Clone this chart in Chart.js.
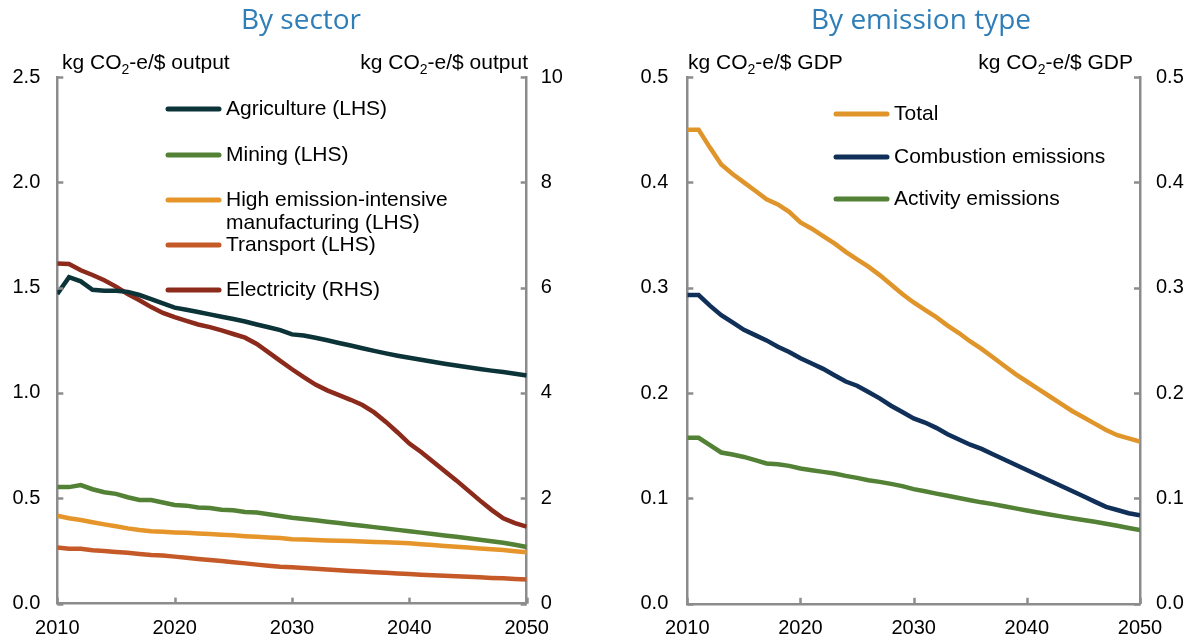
<!DOCTYPE html>
<html>
<head>
<meta charset="utf-8">
<script src="https://cdn.jsdelivr.net/npm/chart.js@4/dist/chart.umd.min.js"></script>
<style>
  html, body { margin: 0; padding: 0; background: #fff; }
  #wrap { position: relative; width: 1197px; height: 640px; overflow: hidden; }
  .panel { position: absolute; top: 0; height: 640px; }
  #leftPanel { left: 0; width: 598px; }
  #rightPanel { left: 598px; width: 599px; }
</style>
</head>
<body>
<div id="wrap">
  <div class="panel" id="leftPanel"><canvas id="sectorChart" width="598" height="640"></canvas></div>
  <div class="panel" id="rightPanel"><canvas id="typeChart" width="599" height="640"></canvas></div>
</div>
<script>
// Years on the x axis
const years = [2010, 2011, 2012, 2013, 2014, 2015, 2016, 2017, 2018, 2019,
  2020, 2021, 2022, 2023, 2024, 2025, 2026, 2027, 2028, 2029,
  2030, 2031, 2032, 2033, 2034, 2035, 2036, 2037, 2038, 2039,
  2040, 2041, 2042, 2043, 2044, 2045, 2046, 2047, 2048, 2049, 2050];

// By sector (kg CO2-e/$ output)
const agriculture = [1.47, 1.55, 1.53, 1.49, 1.485, 1.485, 1.48, 1.465, 1.445, 1.425, 1.405,
  1.395, 1.384, 1.373, 1.362, 1.351, 1.339, 1.325, 1.312, 1.298, 1.278,
  1.273, 1.262, 1.250, 1.237, 1.225, 1.212, 1.200, 1.188, 1.177, 1.167,
  1.158, 1.148, 1.139, 1.130, 1.122, 1.114, 1.106, 1.099, 1.091, 1.083];
const mining = [0.553, 0.553, 0.563, 0.543, 0.529, 0.521, 0.505, 0.492, 0.492, 0.480, 0.468,
  0.465, 0.456, 0.454, 0.446, 0.443, 0.435, 0.432, 0.424, 0.416, 0.408,
  0.402, 0.396, 0.389, 0.383, 0.376, 0.370, 0.363, 0.357, 0.350, 0.343,
  0.337, 0.330, 0.323, 0.317, 0.310, 0.303, 0.296, 0.289, 0.279, 0.269];
const highEmission = [0.417, 0.405, 0.397, 0.386, 0.376, 0.367, 0.357, 0.349, 0.344, 0.341, 0.338,
  0.336, 0.333, 0.330, 0.327, 0.324, 0.320, 0.317, 0.314, 0.311, 0.306,
  0.304, 0.302, 0.300, 0.298, 0.297, 0.295, 0.293, 0.291, 0.289, 0.286,
  0.282, 0.278, 0.274, 0.270, 0.266, 0.262, 0.258, 0.254, 0.249, 0.244];
const transport = [0.266, 0.260, 0.260, 0.253, 0.250, 0.245, 0.241, 0.236, 0.231, 0.228, 0.223,
  0.218, 0.212, 0.207, 0.202, 0.196, 0.191, 0.185, 0.180, 0.175, 0.172,
  0.169, 0.165, 0.162, 0.158, 0.155, 0.152, 0.149, 0.146, 0.143, 0.140,
  0.137, 0.135, 0.132, 0.130, 0.127, 0.125, 0.122, 0.120, 0.117, 0.114];
const electricity = [6.46, 6.45, 6.33, 6.24, 6.14, 6.02, 5.88, 5.76, 5.63, 5.52, 5.44,
  5.37, 5.30, 5.25, 5.19, 5.12, 5.05, 4.93, 4.77, 4.61, 4.45,
  4.30, 4.16, 4.05, 3.96, 3.87, 3.77, 3.63, 3.45, 3.25, 3.04,
  2.88, 2.70, 2.52, 2.34, 2.15, 1.96, 1.78, 1.62, 1.53, 1.46];

// By emission type (kg CO2-e/$ GDP)
const total = [0.450, 0.450, 0.433, 0.417, 0.408, 0.400, 0.392, 0.384, 0.379, 0.372, 0.362,
  0.356, 0.349, 0.342, 0.334, 0.327, 0.320, 0.312, 0.303, 0.294, 0.286,
  0.279, 0.272, 0.264, 0.257, 0.249, 0.242, 0.234, 0.226, 0.218, 0.211,
  0.204, 0.197, 0.190, 0.183, 0.177, 0.171, 0.165, 0.160, 0.157, 0.154];
const combustion = [0.293, 0.293, 0.283, 0.274, 0.267, 0.260, 0.255, 0.250, 0.244, 0.239, 0.233,
  0.228, 0.223, 0.217, 0.211, 0.207, 0.201, 0.195, 0.188, 0.182, 0.176,
  0.172, 0.167, 0.161, 0.156, 0.151, 0.147, 0.142, 0.137, 0.132, 0.127,
  0.122, 0.117, 0.112, 0.107, 0.102, 0.097, 0.092, 0.089, 0.086, 0.084];
const activity = [0.1575, 0.1575, 0.1505, 0.1436, 0.1417, 0.1394, 0.1363, 0.1332, 0.1325, 0.1309, 0.1284,
  0.1268, 0.1252, 0.1237, 0.1214, 0.1195, 0.1173, 0.1157, 0.1138, 0.1117, 0.1088,
  0.1068, 0.1046, 0.1025, 0.1004, 0.0983, 0.0963, 0.0946, 0.0926, 0.0906, 0.0886,
  0.0866, 0.0848, 0.0830, 0.0812, 0.0795, 0.0778, 0.0760, 0.0740, 0.0720, 0.0700];

const axisColor = '#8c8c8c';
const tickFont = { family: "'Liberation Sans', Arial, sans-serif", size: 20 };
const textFont = "21px 'Liberation Sans', Arial, sans-serif";
const subFont = "14px 'Liberation Sans', Arial, sans-serif";

// pair years with values for the linear x axis
function toPoints(values) {
  return values.map((v, i) => ({ x: years[i], y: v }));
}

function lineSet(label, values, color, axis) {
  return {
    label: label,
    data: toPoints(values),
    borderColor: color,
    backgroundColor: color,
    borderWidth: 4.5,
    pointRadius: 0,
    tension: 0,
    fill: false,
    yAxisID: axis
  };
}

// draws "kg CO2-e/$ ..." with a real subscript
function drawUnit(ctx, x, y, tail, alignRight) {
  ctx.font = textFont;
  const w1 = ctx.measureText('kg CO').width;
  ctx.font = subFont;
  const w2 = ctx.measureText('2').width;
  ctx.font = textFont;
  const w3 = ctx.measureText(tail).width;
  let start = alignRight ? x - (w1 + w2 + w3) : x;
  ctx.fillStyle = '#000';
  ctx.textAlign = 'left';
  ctx.textBaseline = 'alphabetic';
  ctx.fillText('kg CO', start, y);
  ctx.font = subFont;
  ctx.fillText('2', start + w1, y + 5);
  ctx.font = textFont;
  ctx.fillText(tail, start + w1 + w2, y);
}

// inward ticks, units, title and legend
const decoPlugin = {
  id: 'deco',
  afterDraw(chart, args, opts) {
    const ctx = chart.ctx;
    const area = chart.chartArea;
    ctx.save();

    ctx.strokeStyle = axisColor;
    ctx.lineWidth = 2.5;
    ['y', 'y2'].forEach(id => {
      const s = chart.scales[id];
      s.ticks.forEach(t => {
        const py = Math.round(s.getPixelForValue(t.value)) + 0.5;
        ctx.beginPath();
        if (s.position === 'left') {
          ctx.moveTo(area.left, py);
          ctx.lineTo(area.left + 6, py);
        } else {
          ctx.moveTo(area.right, py);
          ctx.lineTo(area.right - 6, py);
        }
        ctx.stroke();
      });
    });
    const sx = chart.scales.x;
    sx.ticks.forEach(t => {
      const px = Math.round(sx.getPixelForValue(t.value)) + 0.5;
      ctx.beginPath();
      ctx.moveTo(px, area.bottom);
      ctx.lineTo(px, area.bottom - 6);
      ctx.stroke();
    });

    // panel title
    ctx.fillStyle = '#2f7eb8';
    ctx.font = "28px 'Open Sans', sans-serif";
    ctx.textAlign = 'center';
    ctx.textBaseline = 'middle';
    ctx.fillText(opts.title, opts.titleX, 21);

    // unit labels
    drawUnit(ctx, opts.unitLeftX, 69, opts.unitTail, false);
    drawUnit(ctx, opts.unitRightX, 69, opts.unitTail, true);

    // legend
    ctx.lineCap = 'round';
    ctx.lineWidth = 5;
    ctx.font = textFont;
    ctx.textAlign = 'left';
    ctx.textBaseline = 'middle';
    opts.legend.forEach(item => {
      ctx.strokeStyle = item.color;
      ctx.beginPath();
      ctx.moveTo(opts.legendX, item.y);
      ctx.lineTo(opts.legendX + 51, item.y);
      ctx.stroke();
      ctx.fillStyle = '#000';
      item.lines.forEach((txt, k) => {
        ctx.fillText(txt, opts.legendX + 58, item.y + k * 23);
      });
    });
    ctx.restore();
  }
};

function axisOptions(pos, min, max, step, pad, digits, width) {
  return {
    type: 'linear',
    position: pos,
    min: min,
    max: max,
    grid: { display: false, drawTicks: false },
    border: { display: true, color: axisColor, width: 2.5 },
    ticks: {
      stepSize: step,
      padding: pad,
      color: '#000',
      font: tickFont,
      callback: v => v.toFixed(digits)
    },
    afterFit: s => { s.width = width; }
  };
}

function xOptions(height) {
  return {
    type: 'linear',
    min: 2010,
    max: 2050,
    grid: { display: false, drawTicks: false },
    border: { display: true, color: axisColor, width: 2.5 },
    ticks: {
      stepSize: 10,
      padding: 13,
      color: '#000',
      font: tickFont,
      maxRotation: 0,
      callback: v => String(v)
    },
    afterFit: s => { s.height = height; }
  };
}

// Left panel: by sector
new Chart(document.getElementById('sectorChart'), {
  type: 'line',
  data: {
    datasets: [
      lineSet('Agriculture (LHS)', agriculture, '#0c3338', 'y'),
      lineSet('Mining (LHS)', mining, '#538135', 'y'),
      lineSet('High emission-intensive manufacturing (LHS)', highEmission, '#e5952a', 'y'),
      lineSet('Transport (LHS)', transport, '#c55a28', 'y'),
      lineSet('Electricity (RHS)', electricity, '#8c2a1c', 'y2')
    ]
  },
  options: {
    responsive: false,
    animation: false,
    devicePixelRatio: 1,
    layout: { padding: { top: 77, left: 0, right: 0, bottom: 0 } },
    scales: {
      x: xOptions(36.4),
      y: axisOptions('left', 0, 2.5, 0.5, 17, 1, 57.3),
      y2: axisOptions('right', 0, 10, 2, 14, 0, 71.3)
    },
    plugins: {
      legend: { display: false },
      tooltip: { enabled: false },
      deco: {
        title: 'By sector',
        titleX: 301,
        unitTail: '-e/$ output',
        unitLeftX: 62,
        unitRightX: 528,
        legendX: 168,
        legend: [
          { color: '#0c3338', y: 109, lines: ['Agriculture (LHS)'] },
          { color: '#538135', y: 155, lines: ['Mining (LHS)'] },
          { color: '#e5952a', y: 200, lines: ['High emission-intensive', 'manufacturing (LHS)'] },
          { color: '#c55a28', y: 245, lines: ['Transport (LHS)'] },
          { color: '#8c2a1c', y: 290, lines: ['Electricity (RHS)'] }
        ]
      }
    }
  },
  plugins: [decoPlugin]
});

// Right panel: by emission type
new Chart(document.getElementById('typeChart'), {
  type: 'line',
  data: {
    datasets: [
      lineSet('Total', total, '#e0952b', 'y'),
      lineSet('Combustion emissions', combustion, '#10305a', 'y'),
      lineSet('Activity emissions', activity, '#538135', 'y')
    ]
  },
  options: {
    responsive: false,
    animation: false,
    devicePixelRatio: 1,
    layout: { padding: { top: 77, left: 0, right: 0, bottom: 0 } },
    scales: {
      x: xOptions(36.2),
      y: axisOptions('left', 0, 0.5, 0.1, 19, 1, 89.3),
      y2: axisOptions('right', 0, 0.5, 0.1, 16, 1, 57)
    },
    plugins: {
      legend: { display: false },
      tooltip: { enabled: false },
      deco: {
        title: 'By emission type',
        titleX: 323,
        unitTail: '-e/$ GDP',
        unitLeftX: 90,
        unitRightX: 535,
        legendX: 238,
        legend: [
          { color: '#e0952b', y: 114, lines: ['Total'] },
          { color: '#10305a', y: 157, lines: ['Combustion emissions'] },
          { color: '#538135', y: 199, lines: ['Activity emissions'] }
        ]
      }
    }
  },
  plugins: [decoPlugin]
});
</script>
</body>
</html>
